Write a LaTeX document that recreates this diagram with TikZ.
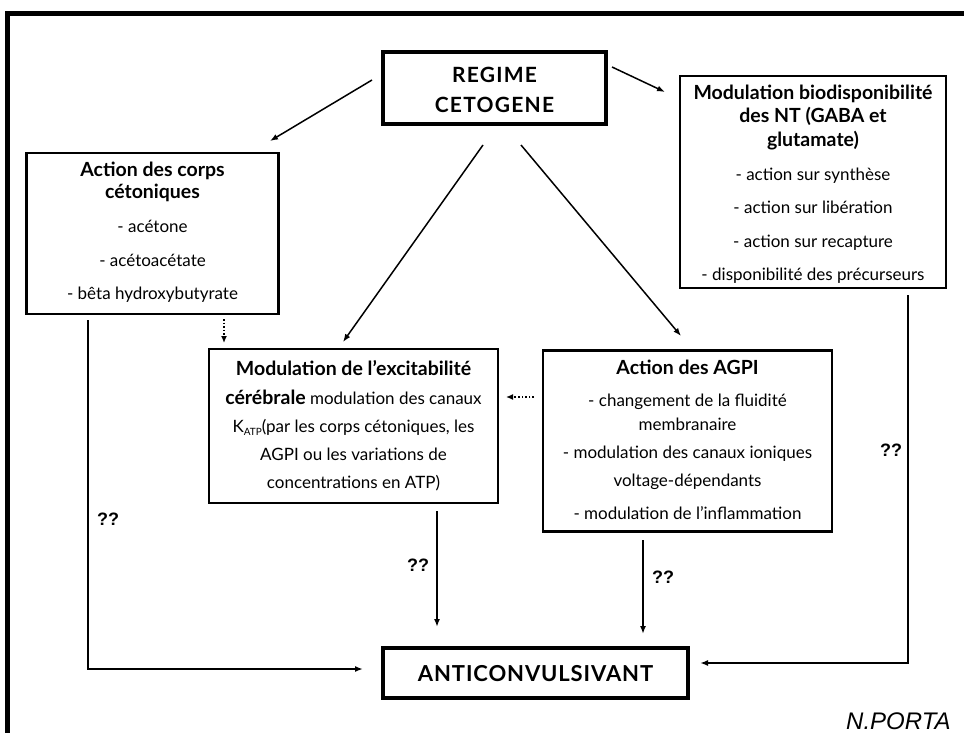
\documentclass[tikz,border=0pt]{standalone}
\usepackage{fontspec}
\setmainfont{Lato}
\newfontfamily\sigfont{Liberation Sans}
\usetikzlibrary{arrows.meta}
\newcommand{\bigbf}[1]{{\fontsize{19.5}{22}\selectfont\bfseries #1}}
\begin{document}
\begin{tikzpicture}[x=1pt,y=-1pt,
  box/.style={draw, line width=2.6pt, inner sep=0pt, outer sep=0pt},
  bigbox/.style={draw, line width=4pt, inner sep=0pt, outer sep=0pt},
  txt/.style={inner sep=0pt, text height=12pt, text depth=4pt, anchor=center, font=\fontsize{17}{20}\selectfont},
  btxt/.style={txt, font=\fontsize{19.5}{22}\selectfont\bfseries},
  captxt/.style={inner sep=0pt, anchor=center, font=\fontsize{21}{24}\selectfont\bfseries\addfontfeature{LetterSpace=6}},
  qq/.style={inner sep=0pt, anchor=center, font=\sigfont\bfseries\fontsize{18}{20}\selectfont},
  arr/.style={line width=1.5pt, -{Latex[length=8pt,width=6pt]}},
  darr/.style={line width=1.6pt, dotted, -{Latex[length=7pt,width=6pt]}},
  vline/.style={line width=2pt, -{Latex[length=8pt,width=6pt]}}
]
\useasboundingbox (0,0) rectangle (964,733);
\fill[white] (0,0) rectangle (964,733);
% frame
\draw[line width=5pt] (7,745) -- (7,14) -- (975,14);

% boxes
\node[bigbox, minimum width=223pt, minimum height=72pt] (regime) at (494.5,88) {};
\node[captxt] (r1) at (494.5,75) {REGIME};
\node[captxt] (r2) at (494.5,105) {CETOGENE};

\node[box, minimum width=252pt, minimum height=161pt] (left) at (152.5,233.5) {};
\node[btxt] (l1) at (152.5,172) {Action des corps};
\node[btxt] (l2) at (152.5,194) {cétoniques};
\node[txt] (l3) at (152.5,228) {- acétone};
\node[txt] (l4) at (152.5,262) {- acétoacétate};
\node[txt] (l5) at (152.5,295) {- bêta hydroxybutyrate};

\node[box, minimum width=266pt, minimum height=212pt] (right) at (813,182) {};
\node[btxt] (g1) at (813,96) {Modulation biodisponibilité};
\node[btxt] (g2) at (813,119) {des NT (GABA et};
\node[btxt] (g3) at (813,143) {glutamate)};
\node[txt] (g4) at (813,176) {- action sur synthèse};
\node[txt] (g5) at (813,209) {- action sur libération};
\node[txt] (g6) at (813,243) {- action sur recapture};
\node[txt] (g7) at (813,276) {- disponibilité des précurseurs};

\node[box, minimum width=289pt, minimum height=154pt] (mleft) at (353.5,426) {};
\node[btxt] (m1) at (353.5,371) {Modulation de l’excitabilité};
\node[txt] (m2) at (353.5,400) {\bigbf{cérébrale} modulation des canaux};
\node[txt] (m3) at (353.5,428) {K{\fontsize{10}{10}\selectfont\raisebox{-3.5pt}{ATP}}(par les corps cétoniques, les};
\node[txt] (m4) at (353.5,456) {AGPI ou les variations de};
\node[txt] (m5) at (353.5,484) {concentrations en ATP)};

\node[box, minimum width=289pt, minimum height=181pt] (mright) at (687.5,441) {};
\node[btxt] (a1) at (687.5,370) {Action des AGPI};
\node[txt] (a2) at (687.5,402) {- changement de la fluidité};
\node[txt] (a3) at (687.5,426) {membranaire};
\node[txt] (a4) at (687.5,454) {- modulation des canaux ioniques};
\node[txt] (a5) at (687.5,482) {voltage-dépendants};
\node[txt] (a6) at (687.5,515) {- modulation de l’inflammation};

\node[bigbox, minimum width=305pt, minimum height=50pt] (anti) at (535.5,673) {};
\node[captxt, font=\fontsize{22}{24}\selectfont\bfseries\addfontfeature{LetterSpace=4}] (at) at (535.5,674) {ANTICONVULSIVANT};

% connector endpoints
\coordinate (c1s) at (372,80);  \coordinate (c1e) at (270,141);
\coordinate (c2s) at (612,67);  \coordinate (c2e) at (665,92);
\coordinate (c3s) at (483,145); \coordinate (c3e) at (343,342);
\coordinate (c4s) at (521,145); \coordinate (c4e) at (681,336);
\coordinate (d1s) at (224,319); \coordinate (d1e) at (224,343);
\coordinate (d2s) at (534,397); \coordinate (d2e) at (506,397);
\coordinate (lvs) at (88,320);  \coordinate (lvc) at (88,669); \coordinate (lve) at (363,669);
\coordinate (mvs) at (437,511); \coordinate (mve) at (437,627);
\coordinate (avs) at (643,540); \coordinate (ave) at (643,634);
\coordinate (rvs) at (908,295); \coordinate (rvc) at (908,663); \coordinate (rve) at (700,663);

\draw[arr] (c1s) -- (c1e);
\draw[arr] (c2s) -- (c2e);
\draw[arr] (c3s) -- (c3e);
\draw[arr] (c4s) -- (c4e);
\draw[darr] (d1s) -- (d1e);
\draw[darr] (d2s) -- (d2e);
\draw[vline] (lvs) -- (lvc) -- (lve);
\draw[vline] (mvs) -- (mve);
\draw[vline] (avs) -- (ave);
\draw[vline] (rvs) -- (rvc) -- (rve);

\node[qq] (q1) at (108,519) {??};
\node[qq] (q2) at (418,565) {??};
\node[qq] (q3) at (663,577) {??};
\node[qq] (q4) at (891,450) {??};

\node[anchor=base west, inner sep=0pt, font=\sigfont\itshape\fontsize{24}{28}\selectfont] (sig) at (846,729) {N.PORTA};
\end{tikzpicture}
\end{document}
